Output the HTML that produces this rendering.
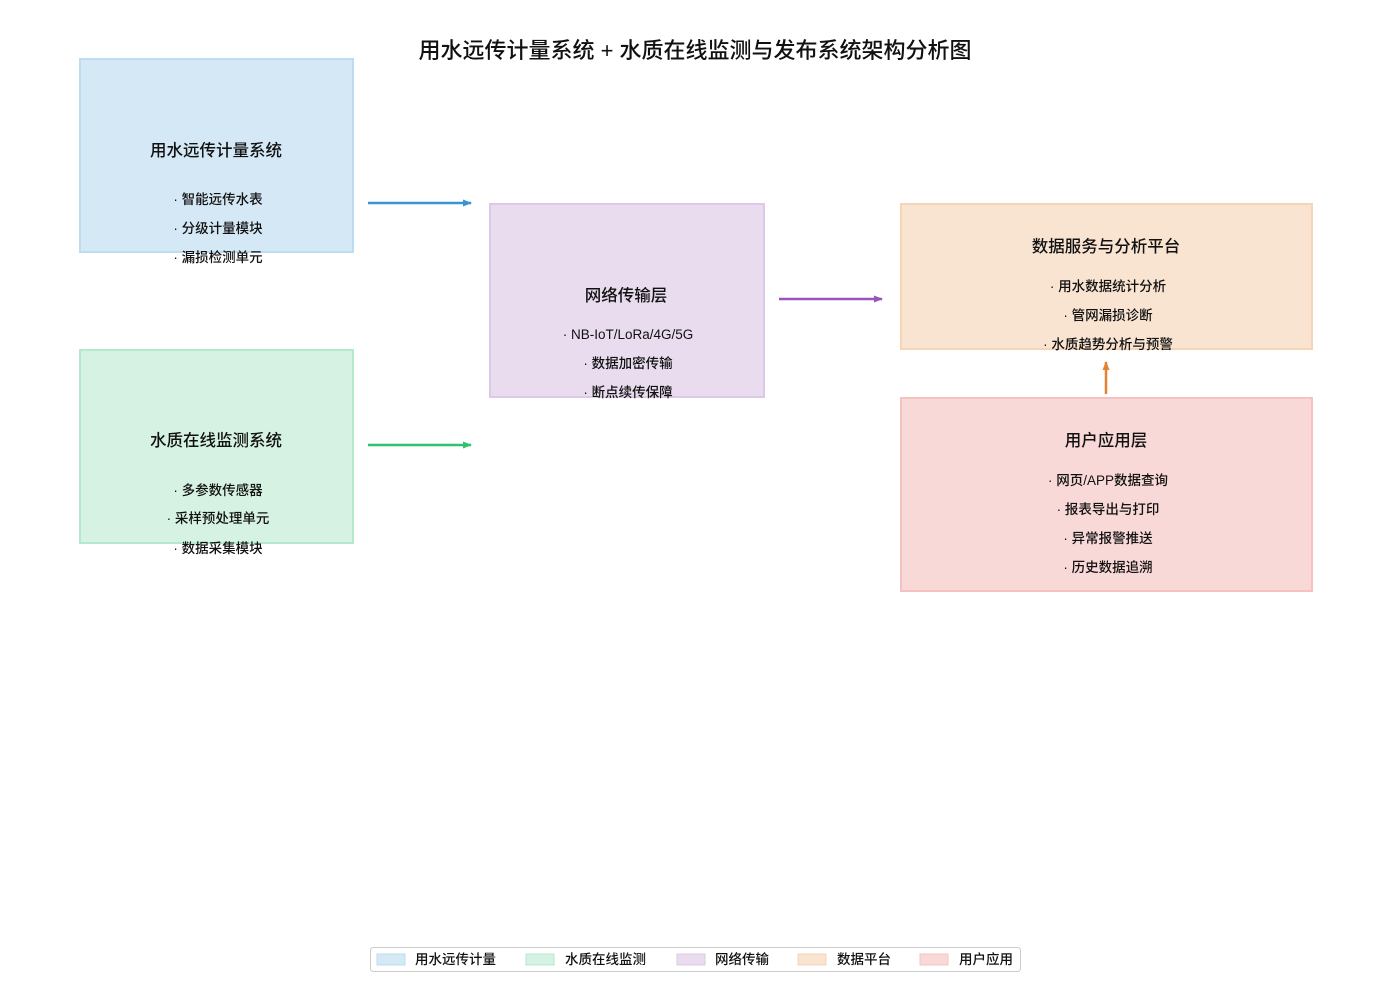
<!DOCTYPE html>
<html><head><meta charset="utf-8"><style>
html,body{margin:0;padding:0;background:#fff;}
svg text{font-family:"Liberation Sans","Noto Sans CJK SC",sans-serif;fill:#111;font-weight:500;}
</style></head><body>
<svg width="1389" height="989" viewBox="0 0 1389 989" xmlns="http://www.w3.org/2000/svg">
<defs>
<marker id="ab" markerWidth="9" markerHeight="8" refX="8" refY="4" orient="auto" markerUnits="userSpaceOnUse"><path d="M0,0.5 L9,4 L0,7.5 Z" fill="#3a94d2"/></marker>
<marker id="ag" markerWidth="9" markerHeight="8" refX="8" refY="4" orient="auto" markerUnits="userSpaceOnUse"><path d="M0,0.5 L9,4 L0,7.5 Z" fill="#2ec46f"/></marker>
<marker id="ap" markerWidth="9" markerHeight="8" refX="8" refY="4" orient="auto" markerUnits="userSpaceOnUse"><path d="M0,0.5 L9,4 L0,7.5 Z" fill="#9a55bb"/></marker>
<marker id="ao" markerWidth="9" markerHeight="8" refX="8" refY="4" orient="auto" markerUnits="userSpaceOnUse"><path d="M0,0.5 L9,4 L0,7.5 Z" fill="#e4822f"/></marker>
</defs>
<text x="695" y="58" font-size="22" text-anchor="middle">用水远传计量系统 + 水质在线监测与发布系统架构分析图</text>

<rect x="80" y="59" width="273" height="193" fill="#d5e8f6" stroke="#bcdcf2" stroke-width="2"/>
<text x="216" y="156" font-size="16.5" text-anchor="middle">用水远传计量系统</text>
<g font-size="13.5" text-anchor="middle">
<text x="218" y="204">·  智能远传水表</text>
<text x="218" y="233">·  分级计量模块</text>
<text x="218" y="262">·  漏损检测单元</text>
</g>

<rect x="80" y="350" width="273" height="193" fill="#d5f2e2" stroke="#b5e8cc" stroke-width="2"/>
<text x="216" y="446" font-size="16.5" text-anchor="middle">水质在线监测系统</text>
<g font-size="13.5" text-anchor="middle">
<text x="218" y="495">·  多参数传感器</text>
<text x="218" y="523">·  采样预处理单元</text>
<text x="218" y="553">·  数据采集模块</text>
</g>

<rect x="490" y="204" width="274" height="193" fill="#e8dcee" stroke="#dcc8e8" stroke-width="2"/>
<text x="626" y="301" font-size="16.5" text-anchor="middle">网络传输层</text>
<g font-size="13.5" text-anchor="middle">
<text x="628" y="339">·  NB-IoT/LoRa/4G/5G</text>
<text x="628" y="368">·  数据加密传输</text>
<text x="628" y="397">·  断点续传保障</text>
</g>

<rect x="901" y="204" width="411" height="145" fill="#f9e4d2" stroke="#f5d4b8" stroke-width="2"/>
<text x="1106" y="252" font-size="16.5" text-anchor="middle">数据服务与分析平台</text>
<g font-size="13.5" text-anchor="middle">
<text x="1108" y="291">·  用水数据统计分析</text>
<text x="1108" y="320">·  管网漏损诊断</text>
<text x="1108" y="349">·  水质趋势分析与预警</text>
</g>

<rect x="901" y="398" width="411" height="193" fill="#f9d9d7" stroke="#f5c2c0" stroke-width="2"/>
<text x="1106" y="446" font-size="16.5" text-anchor="middle">用户应用层</text>
<g font-size="13.5" text-anchor="middle">
<text x="1108" y="485">·  网页/APP数据查询</text>
<text x="1108" y="514">·  报表导出与打印</text>
<text x="1108" y="543">·  异常报警推送</text>
<text x="1108" y="572">·  历史数据追溯</text>
</g>

<line x1="368" y1="203" x2="471" y2="203" stroke="#3a94d2" stroke-width="2.5" marker-end="url(#ab)"/>
<line x1="368" y1="445" x2="471" y2="445" stroke="#2ec46f" stroke-width="2.5" marker-end="url(#ag)"/>
<line x1="779" y1="299" x2="882" y2="299" stroke="#9a55bb" stroke-width="2.5" marker-end="url(#ap)"/>
<line x1="1106" y1="394" x2="1106" y2="362" stroke="#e4822f" stroke-width="2.5" marker-end="url(#ao)"/>

<rect x="370.5" y="947.5" width="650" height="24" rx="3" fill="#fff" stroke="#ccc"/>
<g font-size="13.5">
<rect x="377" y="954" width="28" height="11" fill="#d5e8f6" stroke="#bcdcf2"/><text x="415" y="964">用水远传计量</text>
<rect x="526" y="954" width="28" height="11" fill="#d5f2e2" stroke="#b5e8cc"/><text x="565" y="964">水质在线监测</text>
<rect x="677" y="954" width="28" height="11" fill="#e8dcee" stroke="#dcc8e8"/><text x="715" y="964">网络传输</text>
<rect x="798" y="954" width="28" height="11" fill="#f9e4d2" stroke="#f5d4b8"/><text x="837" y="964">数据平台</text>
<rect x="920" y="954" width="28" height="11" fill="#f9d9d7" stroke="#f5c2c0"/><text x="959" y="964">用户应用</text>
</g>
</svg>
</body></html>
